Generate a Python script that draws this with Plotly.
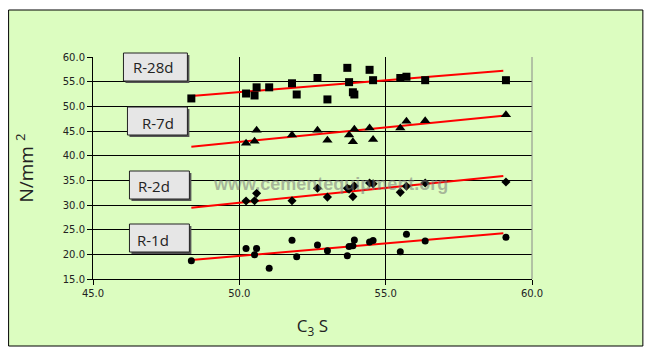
import plotly.graph_objects as go

# Shared C3S values (x)
c3s = [48.36, 50.23, 50.52, 50.59, 51.02, 51.80, 51.96, 52.67, 53.01, 53.69,
       53.75, 53.88, 53.93, 54.45, 54.57, 55.50, 55.71, 56.35, 59.11]

r28d = [51.6, 52.6, 52.2, 53.85, 53.85, 54.67, 52.4, 55.74, 51.4, 57.8,
        54.9, 52.85, 52.4, 57.4, 55.3, 55.74, 56.0, 55.3, 55.3]
r7d = [None, 42.5, 42.9, 45.14, None, 44.2, None, 45.14, 43.1, None,
       44.2, 42.8, 45.33, 45.6, 43.3, 45.6, 46.96, 47.1, 48.3]
r2d = [None, 30.8, 30.87, 32.36, None, 30.87, None, 33.4, 31.6, 33.4,
       33.2, 31.7, 33.85, 34.46, 34.3, 32.56, 33.8, 34.46, 34.66]
r1d = [18.7, 21.2, 19.93, 21.2, 17.16, 22.84, 19.5, 21.9, 20.74, 19.7,
       21.6, 21.75, 22.9, 22.5, 22.8, 20.5, 24.06, 22.7, 23.45]

# Linear trend lines, start/end
trend_x = [48.36, 59.02]
trend_28d = [52.1, 57.2]
trend_7d = [41.8, 48.1]
trend_2d = [29.45, 35.9]
trend_1d = [18.85, 24.27]

series = [
    ("R-28d", r28d, trend_28d, "square", 8),
    ("R-7d", r7d, trend_7d, "triangle-up", 9),
    ("R-2d", r2d, trend_2d, "diamond", 7),
    ("R-1d", r1d, trend_1d, "circle", 7),
]

x_ticks = [45.0, 50.0, 55.0, 60.0]
y_ticks = [15.0, 20.0, 25.0, 30.0, 35.0, 40.0, 45.0, 50.0, 55.0, 60.0]

fig = go.Figure()

for name, ys, tr, sym, sz in series:
    xs = [x for x, y in zip(c3s, ys) if y is not None]
    yv = [y for y in ys if y is not None]
    fig.add_trace(go.Scatter(x=trend_x, y=tr, mode="lines",
                             line=dict(color="#FF0000", width=2),
                             showlegend=False, hoverinfo="skip"))
    fig.add_trace(go.Scatter(x=xs, y=yv, mode="markers", name=name,
                             marker=dict(symbol=sym, size=sz, color="black"),
                             showlegend=False))

# page pixel -> paper coords (plot area spans 92.5..532 x, 57..279 y on the page)
def px2p(px):
    return (px - 92.5) / 439.5

def py2p(py):
    return (279 - py) / 222

def pdx(px):
    return 45 + (px - 92.5) / 29.3

def pdy(py):
    return 60 - (py - 57) / 4.933

shapes = []
# outer green chart area
shapes.append(dict(type="rect", xref="paper", yref="paper", layer="below",
                   x0=px2p(8), x1=px2p(643), y0=py2p(346), y1=py2p(10),
                   fillcolor="#DCFDC0", line=dict(color="black", width=1)))
# right border gray
shapes.append(dict(type="line", xref="paper", yref="paper", x0=1, x1=1, y0=0, y1=1,
                   line=dict(color="#888888", width=1)))

boxes = [
    ("R-28d", 123, 187, 53, 81, 130.5, 67),
    ("R-7d", 127, 187, 107, 135, 140, 122.5),
    ("R-2d", 129, 189, 171, 199, 136, 186),
    ("R-1d", 129, 189, 224, 252, 134.5, 240),
]
annotations = []
for label, x0, x1, y0, y1, tx_, ty_ in boxes:
    shapes.append(dict(type="rect", xref="paper", yref="paper",
                       x0=px2p(x0 + 2), x1=px2p(x1 + 2), y0=py2p(y1 + 2), y1=py2p(y0 + 2),
                       fillcolor="#555555", line=dict(width=0)))
    shapes.append(dict(type="rect", xref="paper", yref="paper",
                       x0=px2p(x0), x1=px2p(x1), y0=py2p(y1), y1=py2p(y0),
                       fillcolor="#E6E6E6", line=dict(color="#222222", width=1)))
    annotations.append(dict(x=px2p(tx_), y=py2p(ty_), xref="paper", yref="paper",
                            text=label, showarrow=False, xanchor="left", yanchor="middle",
                            font=dict(family="Open Sans", size=15, color="#222222")))

annotations.append(dict(x=pdx(330), y=pdy(184), xref="x", yref="y",
                        text="<b>www.cementequipment.org</b>", showarrow=False,
                        font=dict(family="Liberation Sans", size=18,
                                  color="rgba(120,120,120,0.55)")))

# the page body adds an 8px offset; margins compensate
fig.update_layout(
    width=665, height=363,
    margin=dict(l=84.5, r=141, t=49, b=92),
    paper_bgcolor="white",
    plot_bgcolor="white",
    showlegend=False,
    shapes=shapes,
    annotations=annotations,
    xaxis=dict(range=[45, 60], tickvals=x_ticks,
               ticktext=[f"{v:.1f}" for v in x_ticks],
               showline=True, linecolor="black", linewidth=1,
               ticks="outside", ticklen=5, tickcolor="black",
               showgrid=True, gridcolor="black", gridwidth=1, zeroline=False,
               tickfont=dict(family="DejaVu Sans", size=10, color="#222222"),
               title=dict(text="C<sub>3</sub> S", standoff=22,
                          font=dict(family="Open Sans", size=17, color="#222222"))),
    yaxis=dict(range=[15, 60], tickvals=y_ticks,
               ticktext=[f"{v:.1f}" for v in y_ticks],
               showline=True, linecolor="black", linewidth=1,
               ticks="outside", ticklen=5, tickcolor="black",
               showgrid=True, gridcolor="black", gridwidth=1, zeroline=False,
               tickfont=dict(family="DejaVu Sans", size=10, color="#222222"),
               title=dict(text="N/mm <sup>2</sup>", standoff=24,
                          font=dict(family="Open Sans", size=19, color="#222222"))),
)

fig.write_html("out.html")
